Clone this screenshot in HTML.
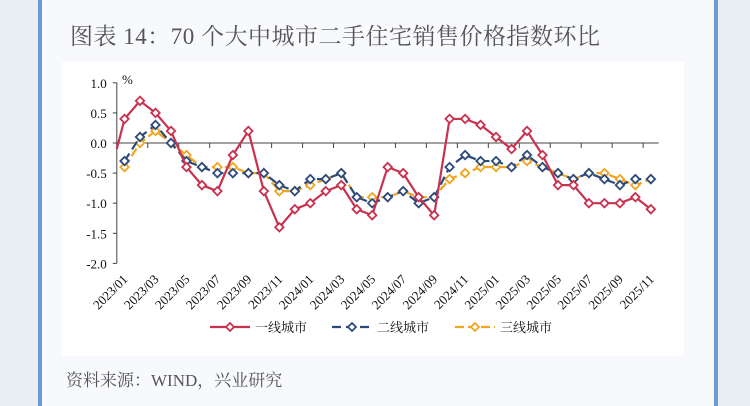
<!DOCTYPE html>
<html><head><meta charset="utf-8">
<style>
body{margin:0;width:750px;height:406px;background:#e9edf4;overflow:hidden;font-family:"Liberation Serif","Noto Serif CJK SC",serif;}
#panel{position:absolute;left:38px;top:0;width:672px;height:406px;background:#f8f9fc;border-left:4px solid #6c9ad6;border-right:4px solid #6c9ad6;}
#title{position:absolute;left:70px;top:18px;font-size:23px;color:#555;letter-spacing:0.5px;}
#src{position:absolute;left:66px;top:366px;font-size:17px;color:#555;}
svg{position:absolute;left:0;top:0;}
</style></head><body>
<div id="panel"></div>
<div id="title">图表 14：70 个大中城市二手住宅销售价格指数环比</div>
<div id="src">资料来源：WIND，兴业研究</div>
<svg id="chart" width="750" height="406"></svg>
<script>
const categories=[];for(let y=2023;y<=2025;y++)for(let m=1;m<=12;m++){if(y===2025&&m>11)break;categories.push(y+'/'+String(m).padStart(2,'0'));}
const tier1=[0.4,0.7,0.5,0.2,-0.4,-0.7,-0.8,-0.2,0.2,-0.8,-1.4,-1.1,-1.0,-0.8,-0.7,-1.1,-1.2,-0.4,-0.5,-0.9,-1.2,0.4,0.4,0.3,0.1,-0.1,0.2,-0.2,-0.7,-0.7,-1.0,-1.0,-1.0,-0.9,-1.1];
const tier2=[-0.3,0.1,0.3,0.0,-0.3,-0.4,-0.5,-0.5,-0.5,-0.5,-0.7,-0.8,-0.6,-0.6,-0.5,-0.9,-1.0,-0.9,-0.8,-1.0,-0.9,-0.4,-0.2,-0.3,-0.3,-0.4,-0.2,-0.4,-0.5,-0.6,-0.5,-0.6,-0.7,-0.6,-0.6];
const tier3=[-0.4,0.0,0.2,0.0,-0.2,-0.4,-0.4,-0.4,-0.5,-0.5,-0.8,-0.8,-0.7,-0.6,-0.5,-0.9,-0.9,-0.9,-0.8,-0.9,-0.9,-0.6,-0.5,-0.4,-0.4,-0.4,-0.3,-0.4,-0.5,-0.6,-0.5,-0.5,-0.6,-0.7,-0.6];
const yTicks=[1.0,0.5,0.0,-0.5,-1.0,-1.5,-2.0];
const seriesNames=['一线城市','二线城市','三线城市'];
const NS='http://www.w3.org/2000/svg';
const svg=document.getElementById('chart');
const x0=116.8,step=15.48;
const xs=i=>x0+step*(i+0.5);
const ys=v=>143-v*60.2;
function mk(t,a,p){const e=document.createElementNS(NS,t);for(const k in a)e.setAttribute(k,a[k]);(p||svg).appendChild(e);return e;}
const bg=mk('rect',{x:62,y:62,width:622,height:294,fill:'#fff'});


const ya=mk('line',{x1:x0,y1:ys(1),x2:x0,y2:ys(-2),stroke:'#444','stroke-width':1});


yTicks.forEach(v=>{
 mk('line',{x1:x0-4,x2:x0,y1:ys(v),y2:ys(v),stroke:'#444'});
 const t=mk('text',{x:x0-10,y:ys(v)+5,'text-anchor':'end','font-size':13,fill:'#111'});t.textContent=v.toFixed(1);
 
 
});
const pu=mk('text',{x:122,y:84,'font-size':13,fill:'#111'});pu.textContent='%';


const xEnd=x0+step*categories.length;
const xa=mk('line',{x1:x0,y1:ys(0),x2:xEnd,y2:ys(0),stroke:'#444'});


for(let i=0;i<=categories.length;i+=2){if(i>0)mk('line',{x1:x0+step*i,x2:x0+step*i,y1:ys(0),y2:ys(0)+5,stroke:'#444'});}
categories.forEach((c,i)=>{if(i%2)return;
 const x=xs(i)+4,y=280;
 const t=mk('text',{x:x,y:y,'text-anchor':'end','font-size':13,fill:'#111',transform:`rotate(-45 ${x} ${y})`});t.textContent=c;
 
 
});
const colors=['#c8324f','#2c4a7c','#f0a51e'];
const dashes=['none','9,5','9,4'];
const data=[tier1,tier2,tier3];
[2,1,0].forEach(s=>{
 const g=mk('g',{});
 
 
 let d='';data[s].forEach((v,i)=>{d+=(i?'L':'M')+xs(i)+','+ys(v);});
 if(s===0)d='M'+x0+','+ys(-0.1)+'L'+d.slice(1);
 mk('path',{d:d,fill:'none',stroke:colors[s],'stroke-width':2.2,'stroke-dasharray':dashes[s]},g);
 data[s].forEach((v,i)=>{const x=xs(i),y=ys(v);
  const p=mk('path',{d:`M${x},${y-4.2}L${x+4.2},${y}L${x},${y+4.2}L${x-4.2},${y}Z`,fill:'#fff',stroke:colors[s],'stroke-width':1.8},g);
  
  
 });
});
const lx=[210,332,455];
seriesNames.forEach((n,s)=>{
 const g=mk('g',{});
 
 
 const y=327;
 mk('line',{x1:lx[s],x2:lx[s]+40,y1:y,y2:y,stroke:colors[s],'stroke-width':2.2,'stroke-dasharray':dashes[s]},g);
 const x=lx[s]+20;
 mk('path',{d:`M${x},${y-4}L${x+4},${y}L${x},${y+4}L${x-4},${y}Z`,fill:'#fff',stroke:colors[s],'stroke-width':1.8},g);
 const t=mk('text',{x:lx[s]+45,y:y+5,'font-size':13,fill:'#111'},g);t.textContent=n;
});
</script>
</body></html>
